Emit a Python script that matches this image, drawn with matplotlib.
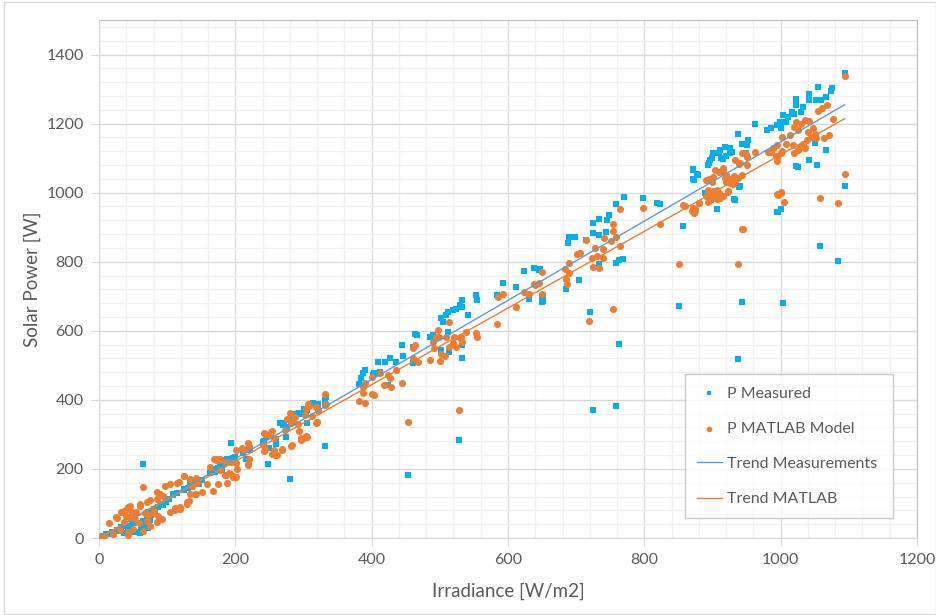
import matplotlib.pyplot as plt
from matplotlib.patches import Rectangle
from matplotlib.ticker import MultipleLocator
import numpy as np

# P Measured (irradiance W/m2, power W)
meas_x = [3, 6, 11, 16, 19, 26, 26, 33, 36, 38, 43, 46, 48, 53, 55, 60, 62, 64, 65, 66, 66, 70, 72, 72, 75,
          77, 80, 82, 87, 92, 94, 99, 102, 109, 109, 114, 124, 124, 131, 134, 136, 143, 146, 151, 163, 163,
          168, 170, 175, 177, 178, 180, 182, 183, 185, 188, 194, 197, 200, 211, 215, 220, 221, 240, 242, 245,
          248, 249, 259, 259, 265, 270, 271, 275, 276, 278, 280, 286, 293, 295, 300, 305, 314, 317, 322, 331,
          332, 332, 333, 303, 305, 308, 322,
          381, 384, 388, 390, 402, 404, 410, 412, 419, 424, 427, 436, 445, 446, 453, 461, 461, 463, 467, 485,
          490, 502, 502, 505, 509, 512, 512, 514, 519, 524, 528, 529, 532, 533, 533, 533, 541, 553, 555, 584,
          592, 612, 623, 631, 638, 645, 650, 650,
          647, 651, 651, 685, 688, 690, 699, 704, 715, 721, 724, 724, 725, 733, 734, 734, 744, 745, 748, 758,
          759, 759, 763, 763, 768, 770, 798, 819, 823, 851, 857, 871, 872, 877, 889, 895, 898, 899, 906, 910,
          915, 925, 932, 937, 939, 944, 995, 1001, 1004, 1023,
          872, 873, 879, 890, 894, 896, 900, 911, 913, 918, 920, 925, 929, 933, 938, 940, 944, 949, 950, 952,
          962, 980, 986, 994, 996, 999, 1001, 1003, 1008, 1011, 1016, 1020, 1023, 1023, 1025, 1030, 1033,
          1041, 1041, 1042, 1050, 1052, 1054, 1055, 1057, 1059, 1067, 1067, 1074, 1076, 1084, 1094, 1094]
meas_y = [2, 6, 11, 11, 18, 20, 23, 31, 15, 34, 27, 35, 42, 18, 44, 15, 23, 215, 49, 27, 42, 64, 30, 76, 52,
          67, 83, 81, 91, 98, 96, 105, 112, 125, 127, 129, 139, 141, 144, 160, 148, 158, 156, 168, 187, 189,
          201, 192, 204, 211, 208, 197, 225, 213, 221, 228, 276, 233, 236, 245, 228, 262, 255, 279, 281, 293,
          214, 260, 271, 286, 332, 327, 334, 293, 322, 341, 172, 358, 363, 360, 373, 370, 392, 387, 389, 266,
          385, 399, 407, 366, 333, 381, 386,
          446, 463, 477, 487, 472, 477, 511, 481, 511, 443, 520, 511, 559, 527, 182, 554, 506, 592, 588, 583,
          588, 544, 636, 626, 645, 597, 655, 539, 660, 664, 283, 674, 520, 559, 669, 688, 645, 703, 688, 703,
          737, 727, 773, 693, 783, 775, 698, 683,
          778, 701, 686, 722, 855, 872, 872, 746, 863, 654, 371, 913, 884, 925, 877, 792, 887, 921, 934, 382,
          968, 797, 804, 563, 809, 987, 986, 971, 966, 673, 904, 1068, 1041, 1053, 1000, 1087, 979, 1099, 954, 1114,
          1097, 1114, 981, 517, 1016, 684, 945, 954, 681, 1077,
          1066, 1037, 1051, 999, 1080, 1095, 1116, 1123, 1099, 1133, 1106, 1128, 1118, 979, 1171, 1018, 1142, 1114, 1138, 1152,
          1200, 1181, 1186, 1195, 944, 1205, 1186, 1224, 1205, 1219, 1234, 1229, 1253, 1272, 1075, 1234, 1248,
          1094, 1269, 1286, 1144, 1269, 1080, 1305, 845, 1267, 1277, 1123, 1294, 1304, 801, 1018, 1346]

# P MATLAB Model
model_x = [3, 8, 14, 20, 26, 25, 31, 33, 36, 36, 40, 41, 42, 43, 43, 45, 46, 48, 48, 50, 53, 55, 58, 60, 60,
           64, 65, 68, 70, 70, 72, 75, 75, 80, 80, 85, 85, 85, 87, 89, 92, 94, 97, 104, 104, 111, 112, 114,
           117, 119, 119, 124, 124, 129, 129, 132, 134, 134, 136, 141, 143, 143, 144, 151, 159, 163, 167, 168,
           172, 173, 174, 175, 177, 177, 185, 186, 186, 188, 191, 193, 194, 196, 201, 201, 201, 202, 210, 211,
           213, 218, 218, 219, 220, 220, 241, 242, 242, 244, 244, 251, 253, 254, 254, 256, 256, 258, 261, 268,
           268, 273, 276, 280, 281, 282, 283, 285, 288, 292, 294, 297, 298, 302, 304, 305, 306, 308, 319, 319,
           320, 322, 332, 333,
           296, 303, 303, 308, 313, 320, 322, 332, 381, 387, 388, 390, 390, 400, 401, 403, 412, 418, 424, 427,
           429, 436, 444, 453, 461, 461, 463, 468, 485, 490, 492, 495, 497, 499, 500, 502, 507, 509, 514, 514,
           519, 521, 524, 528, 529, 531, 533, 538, 553, 555, 584, 586, 592, 612, 623, 631, 638, 645, 650, 650,
           639, 685, 686, 689, 690, 684, 701, 706, 714, 719, 723, 724, 727, 730, 733, 739, 740, 741, 751, 754,
           754, 754, 758, 764, 765, 798, 823, 851, 857, 870, 871, 875, 880, 894, 895, 898, 900, 907, 909, 910,
           910, 915, 923, 930, 922, 926, 932, 939, 944, 937, 949, 993, 1002, 995, 1001, 1005,
           860, 872, 873, 875, 880, 891, 891, 894, 897, 899, 901, 901, 901, 904, 906, 906, 908, 911, 913, 916,
           916, 918, 920, 920, 923, 925, 933, 933, 938, 940, 943, 943, 945, 950, 950, 962, 981, 986, 989, 994,
           994, 995, 996, 1001, 1001, 1002, 1008, 1013, 1018, 1020, 1020, 1023, 1025, 1025, 1028, 1030, 1033,
           1035, 1035, 1038, 1040, 1042, 1045, 1047, 1050, 1052, 1055, 1057, 1060, 1063, 1068, 1071, 1077,
           1084, 1094, 1094]
model_y = [3, 6, 42, 11, 59, 62, 23, 75, 46, 78, 64, 85, 8, 90, 18, 62, 93, 75, 73, 27, 54, 75, 42, 94, 98,
           148, 20, 71, 104, 49, 66, 109, 35, 71, 78, 133, 46, 112, 64, 128, 56, 123, 152, 157, 75, 88, 81, 159,
           162, 85, 91, 179, 180, 104, 98, 107, 172, 127, 152, 128, 175, 127, 160, 133, 157, 206, 136, 230,
           225, 230, 226, 156, 196, 230, 181, 221, 182, 160, 187, 184, 221, 177, 255, 216, 177, 201, 262, 259,
           255, 274, 211, 213, 266, 230, 268, 305, 252, 302, 258, 298, 307, 310, 243, 255, 291, 240, 240, 257,
           255, 313, 344, 362, 334, 267, 269, 336, 349, 331, 310, 289, 288, 355, 294, 293, 387, 383, 379, 332,
           336, 368, 417, 387,
           285, 292, 373, 386, 352, 335, 371, 386, 397, 438, 419, 448, 390, 416, 465, 414, 479, 443, 472, 463,
           438, 487, 450, 337, 549, 520, 559, 511, 515, 568, 549, 583, 602, 581, 513, 533, 527, 583, 626, 554,
           565, 583, 554, 371, 578, 583, 568, 597, 594, 581, 619, 698, 708, 669, 712, 708, 735, 739, 770, 708,
           734, 749, 736, 766, 795, 778, 823, 826, 863, 628, 812, 785, 841, 816, 783, 836, 812, 870, 860, 889,
           908, 662, 872, 845, 954, 957, 908, 792, 963, 947, 956, 953, 969, 973, 1039, 983, 1005, 983, 990, 1000,
           1061, 1066, 1005, 1024, 1031, 1039, 1048, 1082, 896, 792, 1111, 1106, 1121, 995, 1002, 973,
           962, 955, 941, 946, 970, 989, 1037, 1008, 1003, 1032, 999, 1046, 984, 1065, 989, 1008, 994, 984, 1063, 1070,
           989, 1042, 1032, 1051, 1003, 1027, 1035, 1094, 1042, 1085, 1051, 1114, 895, 1104, 1080, 1118, 1118, 1118, 1128, 1138,
           1104, 1093, 992, 998, 1114, 1162, 1142, 1166, 1138, 1114, 1190, 1205, 1123, 1181, 1133, 1200, 1142,
           1128, 1210, 1152, 1176, 1208, 1162, 1186, 1171, 1157, 1236, 986, 1246, 1157, 1253, 1168, 1214,
           970, 1053, 1339]

# trend lines (slope, intercept)
trend_meas = [1.147, 0.0]
trend_model = [1.110, 0.0]

BLUE = "#00B0F0"
ORANGE = "#ED7D31"
TBLUE = "#5B9BD5"
GRID = "#D9D9D9"
MINOR = "#F0F0F0"
TXT = "#595959"

plt.rcParams['font.family'] = ['Lato', 'DejaVu Sans']

fig = plt.figure(figsize=(9.37, 6.15), dpi=100)
ax = fig.add_axes([99 / 937, 77 / 615, 818 / 937, 518 / 615])

ax.scatter(meas_x, meas_y, marker="s", s=20, color=BLUE, linewidths=0, label="P Measured", zorder=3)
ax.scatter(model_x, model_y, marker="o", s=26, color=ORANGE, linewidths=0, label="P MATLAB Model", zorder=4)

tx = np.array([3, 1094])
ax.plot(tx, trend_meas[0] * tx + trend_meas[1], color=TBLUE, lw=1, label="Trend Measurements", zorder=5)
ax.plot(tx, trend_model[0] * tx + trend_model[1], color=ORANGE, lw=1, label="Trend MATLAB", zorder=5)

ax.set_xlim(0, 1200)
ax.set_ylim(0, 1500)
ax.set_xticks(range(0, 1201, 200))
ax.set_yticks(range(0, 1401, 200))
ax.xaxis.set_minor_locator(MultipleLocator(40))
ax.yaxis.set_minor_locator(MultipleLocator(40))
ax.grid(which="major", color=GRID, lw=1, zorder=0)
ax.grid(which="minor", color=MINOR, lw=1, zorder=0)
ax.set_axisbelow(True)
ax.tick_params(which="major", length=6, color=GRID, labelcolor=TXT, labelsize=11.5, pad=5)
ax.tick_params(which="minor", length=0)
for sp in ax.spines.values():
    sp.set_color("#BFBFBF")
ax.spines["left"].set_color(GRID)
ax.spines["bottom"].set_color(GRID)

ax.set_xlabel("Irradiance [W/m2]", fontsize=13.5, color=TXT, labelpad=11)
ax.set_ylabel("Solar Power [W]", fontsize=13.5, color=TXT, labelpad=4)

leg = ax.legend(loc="lower left", bbox_to_anchor=(0.716, 0.038, 0.255, 0.275), mode="expand",
                borderaxespad=0, fontsize=11.5, frameon=True, fancybox=False, borderpad=0.75,
                labelspacing=1.32, handlelength=1.6, handletextpad=0.3, markerscale=0.8)
leg.get_frame().set_edgecolor("#BFBFBF")
leg.get_frame().set_linewidth(1)
for t in leg.get_texts():
    t.set_color(TXT)

fig.patches.append(Rectangle((4 / 937, 1 / 615), 932 / 937, 612 / 615, transform=fig.transFigure,
                             fill=False, edgecolor="#D9D9D9", lw=1))

fig.savefig("out.png", dpi=100)
